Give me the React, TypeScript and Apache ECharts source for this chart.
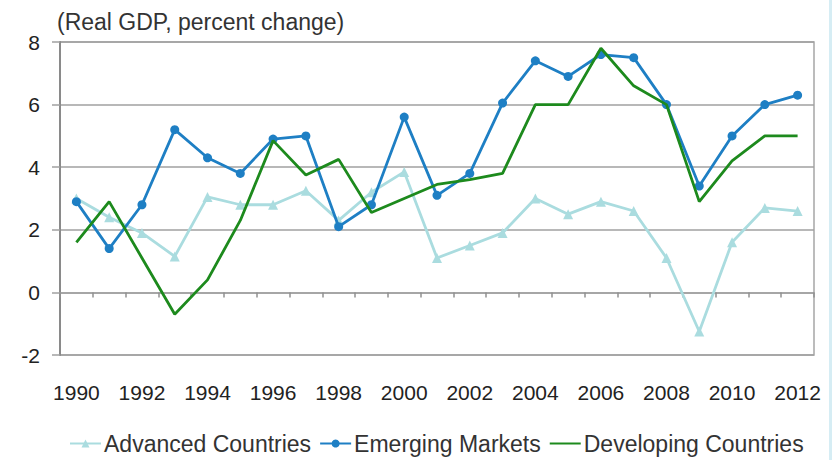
import React, { useEffect, useRef } from "react";
import * as echarts from "echarts";

const years = ["1990","1991","1992","1993","1994","1995","1996","1997","1998","1999","2000","2001","2002","2003","2004","2005","2006","2007","2008","2009","2010","2011","2012"];
const advanced = [3.0, 2.4, 1.9, 1.15, 3.05, 2.8, 2.8, 3.25, 2.3, 3.2, 3.85, 1.1, 1.5, 1.9, 3.0, 2.5, 2.9, 2.6, 1.1, -1.25, 1.6, 2.7, 2.6];
const emerging = [2.9, 1.4, 2.8, 5.2, 4.3, 3.8, 4.9, 5.0, 2.1, 2.8, 5.6, 3.1, 3.8, 6.05, 7.4, 6.9, 7.6, 7.5, 6.0, 3.4, 5.0, 6.0, 6.3];
const developing = [1.6, 2.9, 1.1, -0.7, 0.4, 2.3, 4.85, 3.75, 4.25, 2.55, 3.0, 3.45, 3.6, 3.8, 6.0, 6.0, 7.8, 6.6, 6.0, 2.9, 4.2, 5.0, 5.0];

const FONT = "'Liberation Sans', Arial, sans-serif";

export default function App() {
  const ref = useRef<HTMLDivElement>(null);
  useEffect(() => {
    if (!ref.current) return;
    const chart = echarts.init(ref.current, undefined, { renderer: "svg" });
    chart.setOption({
      animation: false,
      backgroundColor: "#ffffff",
      textStyle: { fontFamily: FONT },
      title: {
        text: "(Real GDP, percent change)",
        left: 52,
        top: 5,
        textStyle: { fontFamily: FONT, fontSize: 23, fontWeight: "normal", color: "#333333" },
      },
      grid: {
        left: 60, right: 18, top: 42, bottom: 105,
        show: true, borderColor: "#a6a6a6", borderWidth: 1.5, backgroundColor: "transparent",
      },
      legend: {
        bottom: 0,
        left: 64,
        itemGap: 8,
        itemWidth: 31,
        itemHeight: 10,
        textStyle: { fontFamily: FONT, fontSize: 23, color: "#333333", padding: [0, 0, 0, -2] },
        data: [
          { name: "Advanced Countries" },
          { name: "Emerging Markets" },
          { name: "Developing Countries", itemStyle: { color: "rgba(0,0,0,0)", borderWidth: 0 } },
        ],
      },
      xAxis: {
        type: "category",
        data: years,
        boundaryGap: true,
        axisLine: { onZero: true, lineStyle: { color: "#a0a0a0", width: 1.5 } },
        axisTick: { show: true, interval: 0, length: 5, lineStyle: { color: "#909090", width: 1.5 } },
        axisLabel: { interval: 1, margin: 27, fontFamily: FONT, fontSize: 21, color: "#222222" },
        splitLine: { show: false },
      },
      yAxis: {
        type: "value",
        min: -2, max: 8, interval: 2,
        axisLine: { show: true, lineStyle: { color: "#8a8a8a", width: 2 } },
        axisTick: { show: true, length: 8, lineStyle: { color: "#a0a0a0", width: 1.5 } },
        axisLabel: { margin: 20, fontFamily: FONT, fontSize: 21, color: "#222222" },
        splitLine: { show: true, lineStyle: { color: "#a0a0a0", width: 1.5 } },
      },
      series: [
        {
          name: "Advanced Countries",
          type: "line",
          data: advanced,
          symbol: "triangle",
          symbolSize: 10,
          color: "#aadcdf",
          lineStyle: { width: 2.8, color: "#aadcdf" },
          itemStyle: { color: "#aadcdf" },
          z: 2,
        },
        {
          name: "Emerging Markets",
          type: "line",
          data: emerging,
          symbol: "circle",
          symbolSize: 9,
          color: "#1e7fc4",
          lineStyle: { width: 2.8, color: "#1e7fc4" },
          itemStyle: { color: "#1e7fc4" },
          z: 3,
        },
        {
          name: "Developing Countries",
          type: "line",
          data: developing,
          symbol: "none",
          color: "#1d8a1d",
          lineStyle: { width: 2.8, color: "#1d8a1d" },
          z: 4,
        },
      ],
      graphic: [
        { type: "rect", right: 0, top: 0, shape: { width: 3, height: 460 }, style: { fill: "#d6edf4" } },
      ],
    });
    return () => chart.dispose();
  }, []);
  return <div ref={ref} style={{ width: 832, height: 460, position: "absolute", left: 0, top: 0 }} />;
}
